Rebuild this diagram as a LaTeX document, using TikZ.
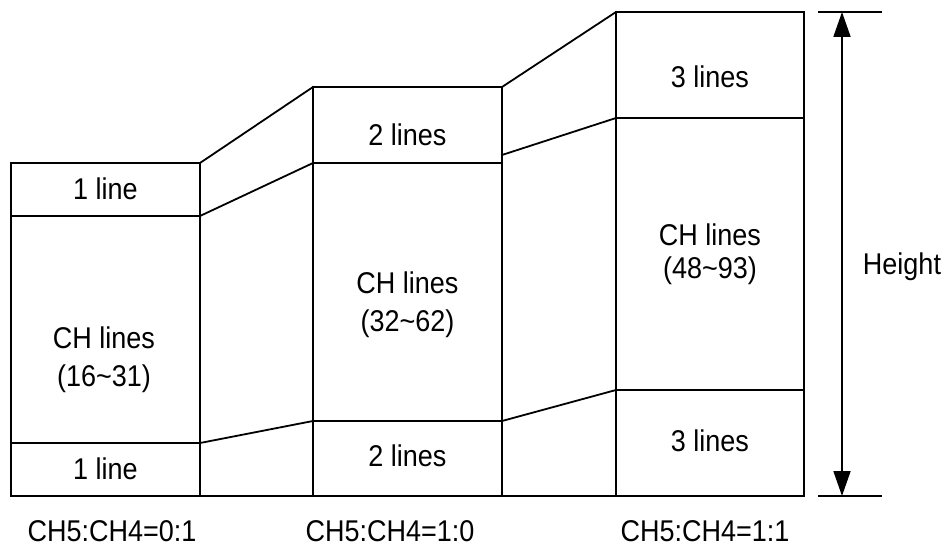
\documentclass[tikz,border=0pt]{standalone}
\usepackage{fontspec}
\setmainfont[FakeStretch=0.9]{Liberation Sans}
\usetikzlibrary{arrows.meta}
\begin{document}
\begin{tikzpicture}[x=1pt,y=-1pt,
  edge/.style={line width=1.8pt, line cap=rect},
  lbl/.style={font=\fontsize{30}{32}\selectfont, inner sep=0pt, anchor=base},
  dim/.style={line width=1.8pt, {Triangle[length=25pt,width=17pt]}-{Triangle[length=25pt,width=17pt]}}]
\useasboundingbox (0,0) rectangle (948,548);

% frame corners and dividers of the three line groups
\coordinate (a1) at (11,163);  \coordinate (a2) at (200,163);
\coordinate (a3) at (11,216);  \coordinate (a4) at (200,216);
\coordinate (a5) at (11,443);  \coordinate (a6) at (200,443);
\coordinate (a7) at (11,496);  \coordinate (a8) at (200,496);

\coordinate (b1) at (313,87);  \coordinate (b2) at (502,87);
\coordinate (b3) at (313,163); \coordinate (b4) at (502,163);
\coordinate (b5) at (313,421); \coordinate (b6) at (502,421);
\coordinate (b7) at (313,496); \coordinate (b8) at (502,496);
\coordinate (bm) at (502,155);

\coordinate (c1) at (616,12);  \coordinate (c2) at (804,12);
\coordinate (c3) at (616,118); \coordinate (c4) at (804,118);
\coordinate (c5) at (616,390); \coordinate (c6) at (804,390);
\coordinate (c7) at (616,496); \coordinate (c8) at (804,496);

% boxes
\draw[edge] (a1) rectangle (a8);
\draw[edge] (a3) -- (a4);
\draw[edge] (a5) -- (a6);

\draw[edge] (b1) rectangle (b8);
\draw[edge] (b3) -- (b4);
\draw[edge] (b5) -- (b6);

\draw[edge] (c1) rectangle (c8);
\draw[edge] (c3) -- (c4);
\draw[edge] (c5) -- (c6);

% common base line
\draw[edge] (a7) -- (c8);

% slanted links between the groups
\draw[edge] (a2) -- (b1);
\draw[edge] (a4) -- (b3);
\draw[edge] (a6) -- (b5);
\draw[edge] (b2) -- (c1);
\draw[edge] (bm) -- (c3);
\draw[edge] (b6) -- (c5);

% height dimension
\coordinate (t1) at (819,12);  \coordinate (t2) at (881,12);
\coordinate (t3) at (819,496); \coordinate (t4) at (881,496);
\coordinate (h1) at (842,12);  \coordinate (h2) at (842,496);
\draw[edge] (t1) -- (t2);
\draw[edge] (t3) -- (t4);
\draw[dim] (h1) -- (h2);
\node[lbl] (height) at (902,274) {Height};

% labels inside the boxes
\node[lbl] (a-top) at (105.5,200) {1 line};
\node[lbl] (a-mid1) at (104,348) {CH lines};
\node[lbl] (a-mid2) at (104,386) {(16\char"7E 31)};
\node[lbl] (a-bot) at (105.5,479.5) {1 line};

\node[lbl] (b-top) at (407.5,146) {2 lines};
\node[lbl] (b-mid1) at (407.5,293.5) {CH lines};
\node[lbl] (b-mid2) at (407.5,331) {(32\char"7E 62)};
\node[lbl] (b-bot) at (407.5,466) {2 lines};

\node[lbl] (c-top) at (710,88) {3 lines};
\node[lbl] (c-mid1) at (710,246) {CH lines};
\node[lbl] (c-mid2) at (710,279) {(48\char"7E 93)};
\node[lbl] (c-bot) at (710,451) {3 lines};

% mode captions
\node[lbl] (m1) at (112,541) {CH5:CH4=0:1};
\node[lbl] (m2) at (390,541) {CH5:CH4=1:0};
\node[lbl] (m3) at (705,541) {CH5:CH4=1:1};
\end{tikzpicture}
\end{document}
